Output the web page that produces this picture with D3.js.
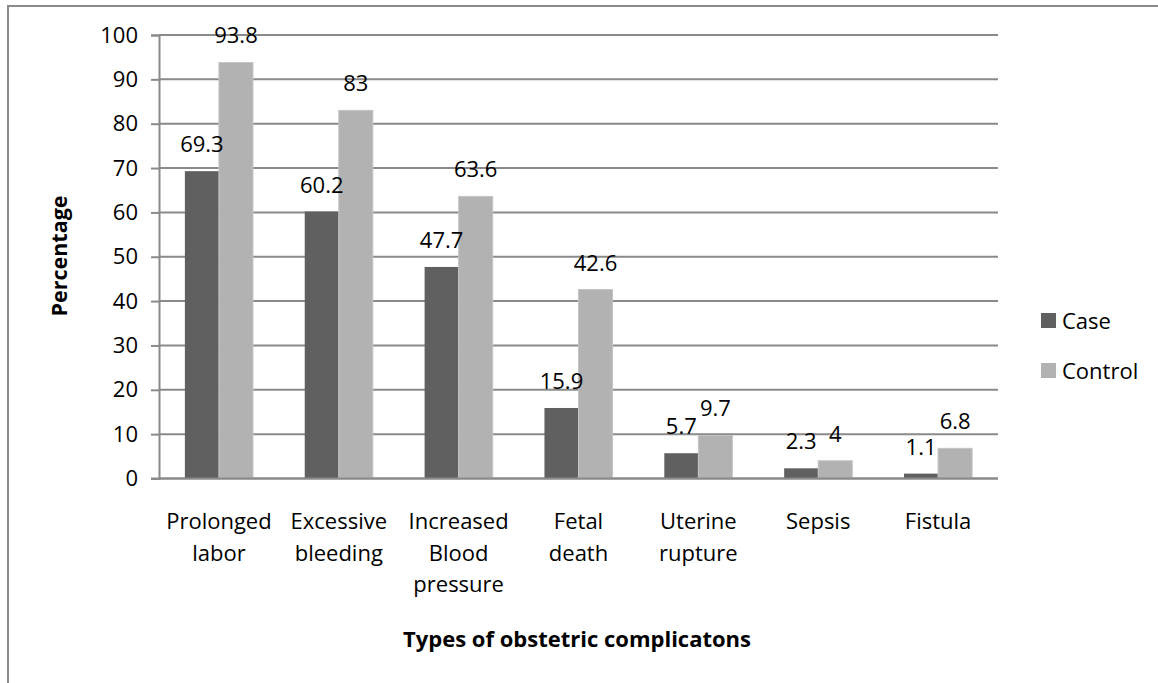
<!DOCTYPE html>
<html>
<head>
<meta charset="utf-8">
<script src="https://cdn.jsdelivr.net/npm/d3@7"></script>
<style>
  html, body { margin: 0; padding: 0; background: #fff; }
  svg { display: block; font-family: "Open Sans", sans-serif; }
</style>
</head>
<body>
<svg id="chart" width="1158" height="683"></svg>
<script>
// Obstetric complications, case vs control (percent)
const categories = [
  ["Prolonged", "labor"],
  ["Excessive", "bleeding"],
  ["Increased", "Blood", "pressure"],
  ["Fetal", "death"],
  ["Uterine", "rupture"],
  ["Sepsis"],
  ["Fistula"]
];
const seriesNames = ["Case", "Control"];
const caseValues = [69.3, 60.2, 47.7, 15.9, 5.7, 2.3, 1.1];
const controlValues = [93.8, 83, 63.6, 42.6, 9.7, 4, 6.8];
const yTicks = [0, 10, 20, 30, 40, 50, 60, 70, 80, 90, 100];
const colors = ["#606060", "#b2b2b2"];

const svg = d3.select("#chart");
const plot = { left: 159, right: 998, top: 35, bottom: 478.5 };
const gridColor = "#8a8a8a";
const fs = 22;

// outer chart frame
svg.append("rect")
  .attr("x", 8).attr("y", 6)
  .attr("width", 1200).attr("height", 720)
  .attr("fill", "none").attr("stroke", gridColor).attr("stroke-width", 2);

const keys = categories.map((c, i) => i);
const x = d3.scaleBand().domain(keys).range([plot.left, plot.right]).paddingInner(0).paddingOuter(0);
const inner = d3.scaleBand().domain(seriesNames).range([0, x.bandwidth()]).paddingInner(0).paddingOuter(0.76);
const y = d3.scaleLinear().domain([0, 100]).range([plot.bottom, plot.top]);

// y axis
const yAxis = d3.axisLeft(y).tickValues(yTicks).tickSize(8).tickPadding(13);
const yG = svg.append("g").attr("transform", `translate(${plot.left},0)`).call(yAxis);
yG.select(".domain").attr("stroke", gridColor).attr("stroke-width", 2);
yG.selectAll(".tick line").attr("stroke", gridColor).attr("stroke-width", 2);
yG.selectAll(".tick text").attr("font-size", fs).attr("fill", "#000")
  .attr("font-family", "'Open Sans', sans-serif");

// horizontal gridlines
svg.append("g").selectAll("line").data(yTicks).join("line")
  .attr("x1", plot.left).attr("x2", plot.right)
  .attr("y1", d => y(d)).attr("y2", d => y(d))
  .attr("stroke", gridColor).attr("stroke-width", 2);

// bars
const rows = keys.map(i => ({ i, vals: [caseValues[i], controlValues[i]] }));
const groups = svg.append("g").selectAll("g").data(rows).join("g")
  .attr("transform", d => `translate(${x(d.i)},0)`);

groups.selectAll("rect").data(d => d.vals.map((v, k) => ({ v, k })))
  .join("rect")
  .attr("x", d => inner(seriesNames[d.k]))
  .attr("width", inner.bandwidth())
  .attr("y", d => y(d.v))
  .attr("height", d => y(0) - y(d.v))
  .attr("fill", d => colors[d.k])
  .attr("stroke", d => d.k === 1 ? "#c4c4c4" : "none")
  .attr("stroke-width", 1);

// value labels
groups.selectAll("text.val").data(d => d.vals.map((v, k) => ({ v, k })))
  .join("text").attr("class", "val")
  .attr("x", d => inner(seriesNames[d.k]) + inner.bandwidth() / 2)
  .attr("y", d => y(d.v) - 19)
  .attr("text-anchor", "middle")
  .attr("font-size", fs)
  .text(d => String(d.v));

// x axis baseline
svg.append("line")
  .attr("x1", plot.left - 8).attr("x2", plot.right)
  .attr("y1", y(0)).attr("y2", y(0))
  .attr("stroke", gridColor).attr("stroke-width", 2);

// category labels
svg.append("g").selectAll("text").data(keys).join("text")
  .attr("x", i => x(i) + x.bandwidth() / 2)
  .attr("y", 529)
  .attr("text-anchor", "middle")
  .attr("font-size", fs)
  .each(function (i) {
    d3.select(this).selectAll("tspan").data(categories[i]).join("tspan")
      .attr("x", x(i) + x.bandwidth() / 2)
      .attr("dy", (d, j) => j === 0 ? 0 : 31.5)
      .text(d => d);
  });

// axis titles
svg.append("text")
  .attr("x", 577).attr("y", 647)
  .attr("text-anchor", "middle").attr("font-size", 22).attr("font-weight", "bold")
  .text("Types of obstetric complicatons");

svg.append("text")
  .attr("transform", "translate(67,256) rotate(-90)")
  .attr("text-anchor", "middle").attr("font-size", 21.5).attr("font-weight", "bold")
  .text("Percentage");

// legend
const legend = svg.append("g").selectAll("g").data(seriesNames).join("g")
  .attr("transform", (d, k) => `translate(1041,${313 + k * 50})`);
legend.append("rect").attr("width", 15).attr("height", 15).attr("fill", (d, k) => colors[k]);
legend.append("text").attr("x", 21).attr("y", 16).attr("font-size", fs).text(d => d);
</script>
</body>
</html>
